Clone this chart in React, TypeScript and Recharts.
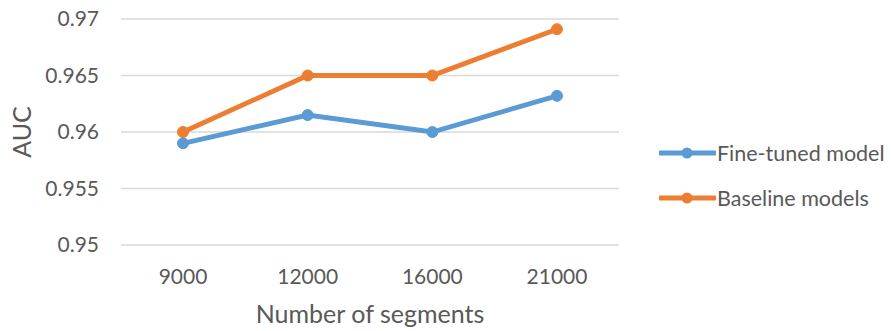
import { CartesianGrid, Label, Legend, Line, LineChart, XAxis, YAxis } from 'recharts'

const segments = ['9000', '12000', '16000', '21000']
const fineTuned = [0.959, 0.9615, 0.96, 0.9632]
const baseline = [0.96, 0.965, 0.965, 0.9691]
const yTicks = [0.95, 0.955, 0.96, 0.965, 0.97]
const seriesNames = ['Fine-tuned model', 'Baseline models']

const BLUE = '#5b9bd5'
const ORANGE = '#ed7d31'
const TEXT = '#595959'
const FONT = 'Lato, "Open Sans", sans-serif'

const data = segments.map((s, i) => ({ segments: s, fine: fineTuned[i], base: baseline[i] }))

function SideLegend({ payload }: { payload?: Array<{ value: string; color: string }> }) {
  if (!payload) return null
  // keep the series order instead of the legend's default alphabetical sort
  const items = seriesNames
    .map((n) => payload.find((p) => p.value === n))
    .filter(Boolean) as Array<{ value: string; color: string }>
  return (
    <div style={{ display: 'flex', flexDirection: 'column', gap: 22 }}>
      {items.map((p) => (
        <div key={p.value} style={{ display: 'flex', alignItems: 'center', height: 23 }}>
          <svg width={57} height={12} style={{ marginRight: 1 }}>
            <line x1={1} y1={6} x2={56} y2={6} stroke={p.color} strokeWidth={4.8} strokeLinecap="round" />
            <circle cx={28} cy={6} r={5.5} fill={p.color} />
          </svg>
          <span style={{ color: TEXT, fontFamily: FONT, fontSize: 21.5 }}>{p.value}</span>
        </div>
      ))}
    </div>
  )
}

export default function App() {
  return (
    <div style={{ position: 'absolute', left: 0, top: 0, width: 891, height: 331, background: '#fff' }}>
      <LineChart width={891} height={331} data={data} margin={{ top: 19, right: 272, bottom: 0, left: 0 }}>
        <CartesianGrid vertical={false} stroke="#d9d9d9" strokeWidth={1.3} />
        <XAxis
          dataKey="segments"
          axisLine={false}
          tickLine={false}
          tickSize={0}
          tickMargin={24}
          height={86}
          padding={{ left: 62, right: 62 }}
          tick={{ fill: TEXT, fontSize: 21, fontFamily: FONT }}
        >
          <Label
            value="Number of segments"
            position="insideBottom"
            offset={8}
            style={{ fill: TEXT, fontSize: 25, fontFamily: FONT }}
          />
        </XAxis>
        <YAxis
          domain={[0.95, 0.97]}
          ticks={yTicks}
          width={121}
          axisLine={false}
          tickLine={false}
          tickSize={0}
          tickMargin={22}
          tick={{ fill: TEXT, fontSize: 21, fontFamily: FONT }}
        >
          <Label
            value="AUC"
            angle={-90}
            position="insideLeft"
            offset={22}
            style={{ fill: TEXT, fontSize: 25, fontFamily: FONT, textAnchor: 'middle' }}
          />
        </YAxis>
        <Legend
          layout="horizontal"
          verticalAlign="middle"
          align="center"
          wrapperStyle={{ left: 659, top: 141, width: 232 }}
          content={(props: any) => <SideLegend payload={props.payload} />}
        />
        <Line
          name="Fine-tuned model"
          dataKey="fine"
          stroke={BLUE}
          strokeWidth={4.8}
          dot={{ r: 5.5, fill: BLUE, stroke: BLUE, strokeWidth: 1 }}
          isAnimationActive={false}
        />
        <Line
          name="Baseline models"
          dataKey="base"
          stroke={ORANGE}
          strokeWidth={4.8}
          dot={{ r: 5.5, fill: ORANGE, stroke: ORANGE, strokeWidth: 1 }}
          isAnimationActive={false}
        />
      </LineChart>
    </div>
  )
}
